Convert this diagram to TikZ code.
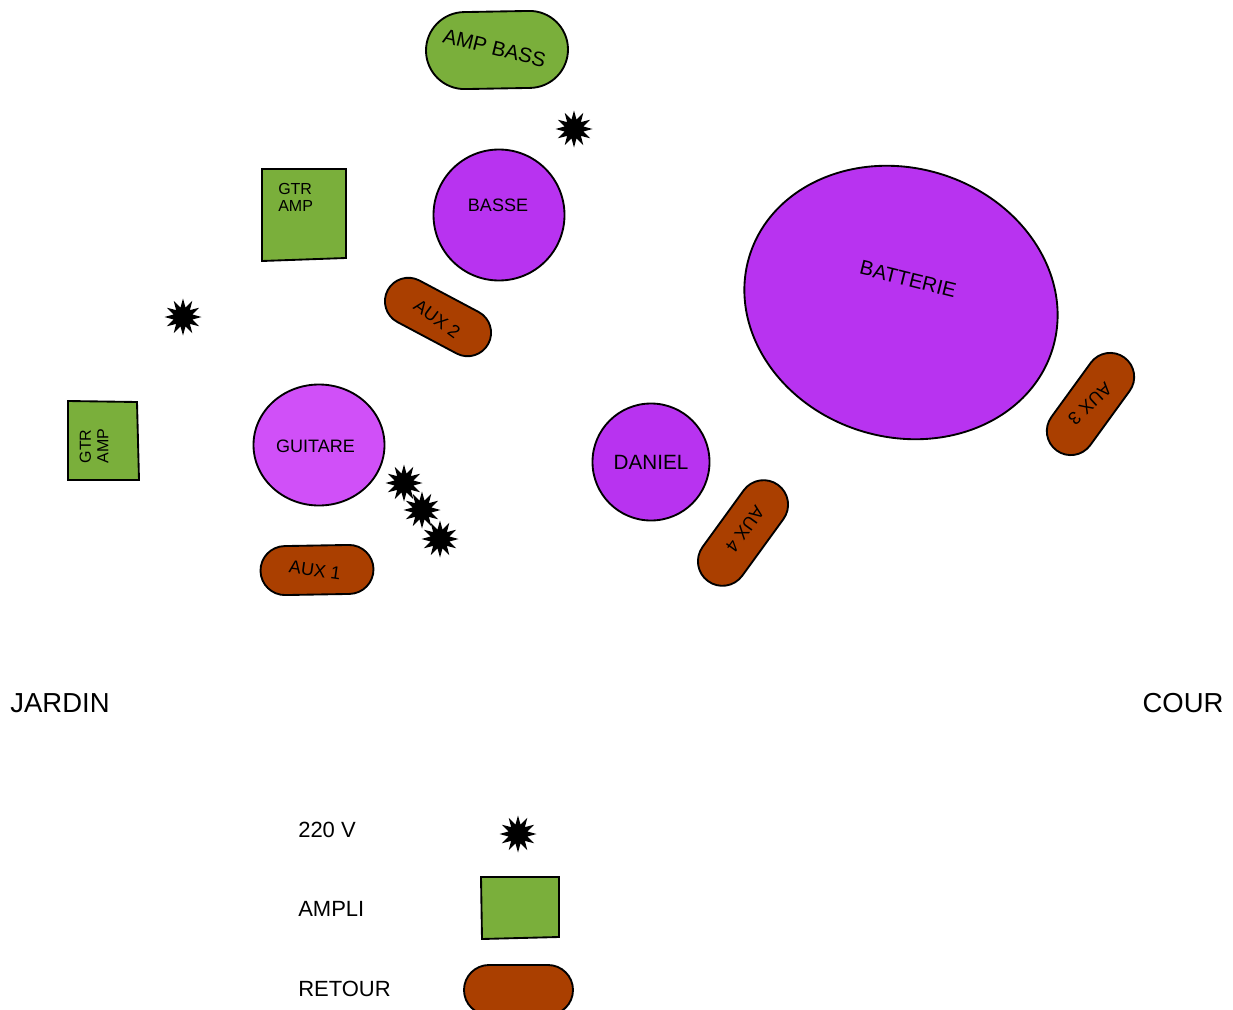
\documentclass[tikz,border=0pt]{standalone}
\usepackage{fontspec}
\setmainfont{Liberation Sans}
\usetikzlibrary{shapes.geometric,shapes.misc}
\definecolor{purp}{HTML}{B833F0}
\definecolor{lpurp}{HTML}{D050F8}
\definecolor{grn}{HTML}{7AAF3B}
\definecolor{rust}{HTML}{AA3F00}
\tikzset{
  px/.style={x=0.75pt,y=-0.75pt},
  outl/.style={draw=black,line width=1.4pt},
  spark/.style={star,star points=12,star point ratio=1.9,fill=black,draw=none,minimum size=37*0.75pt,inner sep=0pt},
  round shape/.style={outl,circle,inner sep=0pt,align=center},
  retour/.style={outl,fill=rust,rounded rectangle,inner sep=0pt},
  ampbody/.style={outl,fill=grn,line join=miter},
  lbl/.style={inner sep=0pt,align=left},
}
\begin{document}
\begin{tikzpicture}[px]
\clip (0,0) rectangle (1233,1010);
\useasboundingbox (0,0) rectangle (1233,1010);
\fill[white] (0,0) rectangle (1233,1010);

% amps
\node[outl,fill=grn,rounded rectangle,inner sep=0pt,minimum width=142*0.75pt,minimum height=77*0.75pt,rotate=1] (ampbassbox) at (497,50) {};
\node[lbl,rotate=-14,font=\fontsize{15.4}{15.4}\selectfont] (ampbass) at (494.5,48) {AMP BASS};
\draw[ampbody] (262,169) -- (346,169) -- (346,258) -- (262,261) -- cycle;
\node[lbl,font=\fontsize{12}{13}\selectfont,anchor=north west] (gtrtop) at (278,183) {GTR\\AMP};
\draw[ampbody] (68,401) -- (137,402) -- (139,480) -- (68,480) -- cycle;
\node[lbl,rotate=90,font=\fontsize{12}{13}\selectfont] (gtrleft) at (94,446) {GTR\\AMP};

% musicians
\node[round shape,fill=purp,minimum size=131*0.75pt] (basse) at (499,215) {};
\node[lbl,font=\fontsize{13.5}{13.5}\selectfont] (bassetxt) at (498,205) {BASSE};
\draw[outl,fill=lpurp] (319,445) ellipse (65.5 and 60.5);
\node[lbl,font=\fontsize{13.5}{13.5}\selectfont] (guitare) at (315.5,446) {GUITARE};
\node[round shape,fill=purp,minimum size=117*0.75pt,font=\fontsize{15.5}{15.5}\selectfont] (daniel) at (651,462) {DANIEL};
\draw[outl,fill=purp,rotate around={-17:(901,302.5)}] (901,302.5) ellipse (158.5 and 134.5);
\node[lbl,rotate=-14,font=\fontsize{15.3}{15.3}\selectfont] (batterie) at (908,279) {BATTERIE};

% retours
\node[retour,minimum width=113*0.75pt,minimum height=49*0.75pt,rotate=1] (aux1box) at (317,570) {};
\node[lbl,rotate=-8,font=\fontsize{13.5}{13.5}\selectfont] (aux1) at (315,570.5) {AUX 1};
\node[retour,minimum width=114*0.75pt,minimum height=47*0.75pt,rotate=-28] (aux2box) at (438,317) {};
\node[lbl,rotate=-36,font=\fontsize{13.5}{13.5}\selectfont] (aux2) at (437,319) {AUX 2};
\node[retour,minimum width=115*0.75pt,minimum height=48*0.75pt,rotate=54] (aux3box) at (1090.5,404) {};
\node[lbl,rotate=223,font=\fontsize{13.5}{13.5}\selectfont] (aux3) at (1090,404) {AUX 3};
\node[retour,minimum width=119*0.75pt,minimum height=49*0.75pt,rotate=54] (aux4box) at (743,533) {};
\node[lbl,rotate=234,font=\fontsize{13.5}{13.5}\selectfont] (aux4) at (745,529) {AUX 4};

% power points
\node[spark] (p1) at (574,129) {};
\node[spark] (p2) at (183,317) {};
\node[spark] (p3) at (404,483) {};
\node[spark] (p4) at (422,510) {};
\node[spark] (p5) at (440,539) {};

% sides
\node[lbl,font=\fontsize{20.6}{20.6}\selectfont] (jardin) at (60,703) {JARDIN};
\node[lbl,font=\fontsize{20.6}{20.6}\selectfont] (cour) at (1183,703) {COUR};

% legend
\node[lbl,anchor=west,font=\fontsize{16.5}{16.5}\selectfont] (l220) at (298,830) {220 V};
\node[lbl,anchor=west,font=\fontsize{16.5}{16.5}\selectfont] (lampli) at (298,909) {AMPLI};
\node[lbl,anchor=west,font=\fontsize{16.5}{16.5}\selectfont] (lretour) at (298,989) {RETOUR};
\node[spark] (p6) at (518,834) {};
\draw[ampbody] (481,877) -- (559,877) -- (559,937) -- (482,939) -- cycle;
\node[retour,minimum width=109*0.75pt,minimum height=50*0.75pt] (legret) at (518.5,990) {};
\end{tikzpicture}
\end{document}
